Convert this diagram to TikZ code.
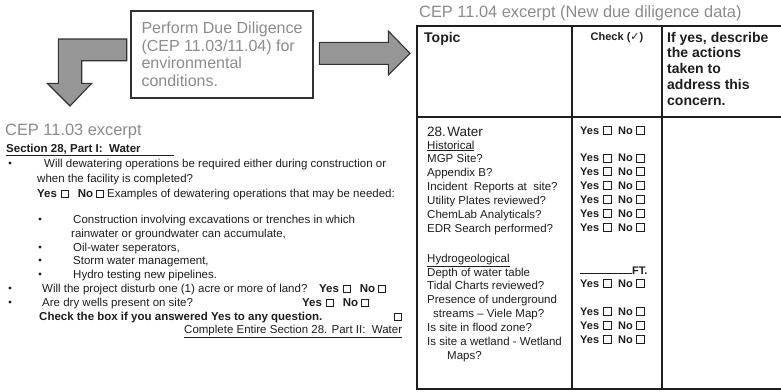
\documentclass[tikz,border=0pt]{standalone}
\usepackage{fontspec}
\setmainfont{Liberation Sans}
\newfontfamily\symfont{DejaVu Sans}
\definecolor{ink}{RGB}{30,30,30}
\definecolor{muted}{RGB}{140,140,140}
\definecolor{arrowfill}{RGB}{150,150,150}
\definecolor{edge}{RGB}{50,50,50}
% check boxes: heavy ones in the table, light ones in the form text
\newcommand\heavybox{{\fboxsep0pt\fboxrule1.2pt\fbox{\rule{0pt}{6.6pt}\hspace{6.6pt}}}}
\newcommand\lightbox{{\fboxsep0pt\fboxrule0.6pt\fbox{\rule{0pt}{6.6pt}\hspace{6.6pt}}}}
\newcommand\tableyn{Yes\hspace{4pt}\heavybox\hspace{6pt}No\hspace{3pt}\heavybox}
\newcommand\formyn{\textbf{Yes}\hspace{4pt}\lightbox\hspace{9pt}\textbf{No}\hspace{3pt}\lightbox}
\tikzset{
  form/.style={anchor=base west, inner sep=0pt, text=ink, font=\fontsize{11.5}{14}\selectfont},
  formbold/.style={form, font=\fontsize{11.5}{14}\selectfont\bfseries},
  heading/.style={anchor=base west, inner sep=0pt, text=muted, font=\fontsize{16.4}{18}\selectfont},
  headcell/.style={anchor=base west, inner sep=0pt, text=ink, font=\fontsize{14}{16}\selectfont\bfseries},
  cell/.style={anchor=base west, inner sep=0pt, text=ink, font=\fontsize{11.5}{14}\selectfont},
  yncell/.style={anchor=base west, inner sep=0pt, text=ink, font=\fontsize{11}{13}\selectfont\bfseries},
  bullet/.style={circle, fill=ink, inner sep=0pt, minimum size=3.2pt},
  blockarrow/.style={fill=arrowfill, draw=edge, line width=1.1pt, line join=miter},
  rule line/.style={draw=ink, line width=1.6pt, line cap=rect},
}
\begin{document}
\begin{tikzpicture}[x=1pt,y=-1pt]
\useasboundingbox (0,0) rectangle (781,391);
\fill[white] (0,0) rectangle (781,391);

% instruction box and its two block arrows
\node[draw=edge, line width=1.2pt, text=muted, font=\fontsize{16}{17.5}\selectfont,
      align=left, minimum width=182pt, minimum height=87pt, inner sep=0pt]
      (pdd) at (222,54.5) {Perform Due Diligence\\(CEP 11.03/11.04) for\\environmental\\conditions.};
\path[blockarrow] (126.7,39) -- (58.3,39) -- (58.3,83.3) -- (47.3,83.3) -- (70,106)
   -- (91.7,83.3) -- (81.7,83.3) -- (81.7,60.7) -- (126.7,60.7) -- cycle;
\path[blockarrow] (319.3,42.3) -- (388.3,42.3) -- (388.3,31) -- (410,53.3)
   -- (388.3,75) -- (388.3,64.3) -- (319.3,64.3) -- cycle;

% CEP 11.03 form text
\node[heading] (cep03) at (5,135.7) {CEP 11.03 excerpt};
\node[formbold] (sec) at (6,152) {\underline{Section 28, Part I:\ \ Water\hspace{33pt}}};
\node[bullet] (b1) at (10,163) {};
\node[form] (q1a) at (44,167) {Will dewatering operations be required either during construction or};
\node[form] (q1b) at (37,182) {when the facility is completed?};
\node[form] (q1c) at (37,197) {\formyn\ Examples of dewatering operations that may be needed:};
\node[bullet] (b2) at (40,219) {};
\node[form] (e1a) at (73,223) {Construction involving excavations or trenches in which};
\node[form] (e1b) at (71,237) {rainwater or groundwater can accumulate,};
\node[bullet] (b3) at (40,247) {};
\node[form] (e2) at (73,251) {Oil-water seperators,};
\node[bullet] (b4) at (40,260) {};
\node[form] (e3) at (73,264) {Storm water management,};
\node[bullet] (b5) at (40,274) {};
\node[form] (e4) at (73,278) {Hydro testing new pipelines.};
\node[bullet] (b6) at (10,288) {};
\node[form] (q2) at (42,292) {Will the project disturb one (1) acre or more of land?};
\node[form] (q2yn) at (319,292) {\formyn};
\node[bullet] (b7) at (10,302) {};
\node[form] (q3) at (42,306) {Are dry wells present on site?};
\node[form] (q3yn) at (302,306) {\formyn};
\node[formbold] (chk) at (39,320) {Check the box if you answered Yes to any question.};
\node[form] (chkbox) at (394,320) {\lightbox};
\node[form] (cmpl) at (184,333) {\underline{Complete Entire Section 28. Part II:\ \ Water}};

% CEP 11.04 table
\node[heading] (cep04) at (419,17.7) {CEP 11.04 excerpt (New due diligence data)};
\draw[rule line] (417,26) -- (781,26);
\draw[rule line] (417,117) -- (781,117);
\draw[rule line] (417,389) -- (781,389);
\draw[rule line] (417,26) -- (417,389);
\draw[rule line] (572,26) -- (572,389);
\draw[rule line] (662,26) -- (662,389);

\node[headcell] (topic) at (424,42) {Topic};
\node[yncell, anchor=base] (check) at (617,40) {Check ({\symfont ✓})};
\foreach \y/\t [count=\i] in {42/{If yes, describe}, 57.8/the actions, 73.6/taken to,
    89.4/address this, 105.2/concern.}
  \node[headcell] (act\i) at (667,\y) {\t};

\node[cell, font=\fontsize{13.5}{15}\selectfont] (water) at (427,136.3) {28.\hspace{1.5pt}Water};
\foreach \y/\x/\t [count=\i] in {149/427/\underline{Historical}, 162.5/427/MGP Site?,
    176/427/Appendix B?, 190/427/Incident\ \ Reports at\ \ site?,
    204/427/Utility Plates reviewed?, 218/427/ChemLab Analyticals?,
    232/427/EDR Search performed?, 262/427/\underline{Hydrogeological},
    276/427/Depth of water table, 289/427/Tidal Charts reviewed?,
    303/427/Presence of underground, 317/433/streams – Viele Map?,
    331/427/Is site in flood zone?, 345/427/Is site a wetland - Wetland, 359/447/Maps?}
  \node[cell] (item\i) at (\x,\y) {\t};

\foreach \y [count=\i] in {134,161.5,175,189,203,217,231,287,315,329,343}
  \node[yncell] (yn\i) at (580,\y) {\tableyn};
\node[yncell] (depth) at (580,274) {\rule{52pt}{0.9pt}FT.};
\end{tikzpicture}
\end{document}
